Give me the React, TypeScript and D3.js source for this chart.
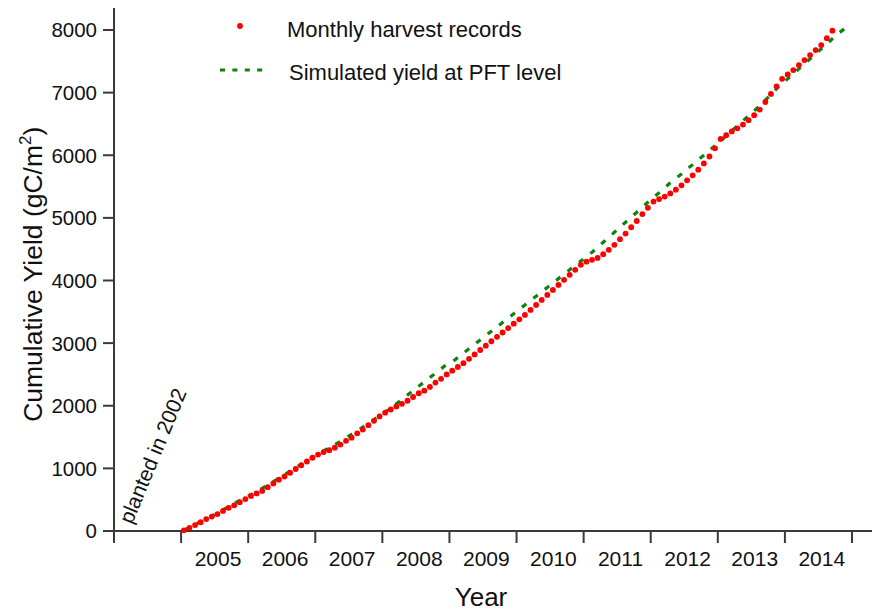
import React from "react";
import * as d3 from "d3";

// Monthly harvest records (cumulative, gC/m2), Jan 2005 .. Sep 2014
const redValues: number[] = [
  // 2005
  10, 50, 95, 140, 190, 230, 270, 320, 370, 410, 460, 510,
  // 2006
  560, 600, 640, 700, 760, 820, 870, 930, 990, 1050, 1110, 1170,
  // 2007
  1220, 1260, 1290, 1330, 1380, 1440, 1490, 1560, 1620, 1690, 1760, 1830,
  // 2008
  1890, 1940, 1990, 2030, 2080, 2140, 2200, 2240, 2300, 2370, 2430, 2500,
  // 2009
  2560, 2620, 2680, 2750, 2820, 2890, 2960, 3030, 3100, 3170, 3240, 3310,
  // 2010
  3380, 3450, 3530, 3610, 3690, 3770, 3850, 3930, 4010, 4090, 4170, 4250,
  // 2011
  4300, 4330, 4360, 4420, 4490, 4570, 4660, 4750, 4850, 4950, 5060, 5160,
  // 2012
  5260, 5300, 5340, 5390, 5450, 5520, 5600, 5680, 5770, 5870, 5980, 6110,
  // 2013
  6260, 6320, 6380, 6430, 6490, 6560, 6640, 6730, 6850, 6980, 7100, 7220,
  // 2014
  7290, 7360, 7440, 7520, 7600, 7680, 7760, 7870, 7990,
];

// Simulated yield at PFT level (cumulative), Jan 2005 .. Dec 2014
const greenValues: number[] = [
  15, 60, 105, 150, 195, 240, 290, 340, 390, 440, 490, 535,
  580, 630, 680, 735, 790, 845, 900, 955, 1010, 1065, 1120, 1175,
  1230, 1280, 1330, 1380, 1430, 1490, 1545, 1600, 1660, 1720, 1780, 1840,
  1900, 1960, 2030, 2100, 2170, 2240, 2310, 2380, 2450, 2520, 2590, 2660,
  2700, 2770, 2840, 2910, 2980, 3050, 3120, 3190, 3260, 3330, 3400, 3470,
  3540, 3610, 3680, 3750, 3820, 3890, 3960, 4030, 4100, 4170, 4240, 4310,
  4380, 4450, 4530, 4610, 4690, 4770, 4850, 4930, 5010, 5090, 5170, 5250,
  5330, 5400, 5480, 5560, 5630, 5700, 5780, 5850, 5930, 6000, 6080, 6150,
  6230, 6310, 6390, 6470, 6550, 6630, 6710, 6790, 6880, 6970, 7060, 7140,
  7220, 7300, 7380, 7460, 7540, 7620, 7700, 7780, 7860, 7940, 8010, 8080,
];

const startYear = 2005;
const yearTicks: number[] = [2004, 2005, 2006, 2007, 2008, 2009, 2010, 2011, 2012, 2013, 2014, 2015];
const yearLabels: number[] = [2005, 2006, 2007, 2008, 2009, 2010, 2011, 2012, 2013, 2014];
const yTicks: number[] = [0, 1000, 2000, 3000, 4000, 5000, 6000, 7000, 8000];

const FONT = "'Liberation Sans', Arial, sans-serif";
const AXIS = "#3a3a3a";
const GREEN = "#0a850a";

export default function App() {
  const x = d3.scaleLinear().domain([2004, 2015]).range([114, 852]);
  const y = d3.scaleLinear().domain([0, 8000]).range([531, 30]);

  const monthTime = (i: number) => startYear + (i + 0.5) / 12;

  const redPts = redValues.map((v, i) => [x(monthTime(i)), y(v)] as [number, number]);
  const greenPts = greenValues.map((v, i) => [x(monthTime(i)), y(v)] as [number, number]);
  const line = d3.line();

  const y0 = y(0);
  const x0 = x(2004);

  return (
    <svg width={872} height={613} style={{ position: "absolute", left: 0, top: 0, background: "#fff" }}>
      <rect x={0} y={0} width={872} height={613} fill="#fff" />
      {/* axes */}
      <line x1={x0} y1={8} x2={x0} y2={y0} stroke={AXIS} strokeWidth={2} />
      <line x1={x0} y1={y0} x2={872} y2={y0} stroke={AXIS} strokeWidth={2} />
      {yTicks.map((t) => (
        <g key={"yt" + t}>
          <line x1={x0 - 11} x2={x0} y1={y(t)} y2={y(t)} stroke={AXIS} strokeWidth={2} />
          <text x={97} y={y(t)} dy="0.36em" textAnchor="end" fontFamily={FONT} fontSize={20.5} fill="#111">
            {t}
          </text>
        </g>
      ))}
      {yearTicks.map((t) => (
        <line key={"xt" + t} x1={x(t)} x2={x(t)} y1={y0} y2={y0 + 12} stroke={AXIS} strokeWidth={2} />
      ))}
      {yearLabels.map((t) => (
        <text key={"xl" + t} x={x(t + 0.55)} y={566} textAnchor="middle" fontFamily={FONT} fontSize={21} fill="#111">
          {t}
        </text>
      ))}
      {/* axis titles */}
      <text x={481} y={606} textAnchor="middle" fontFamily={FONT} fontSize={26} fill="#111">
        Year
      </text>
      <text
        transform={`translate(42, ${y(4100)}) rotate(-90)`}
        textAnchor="middle"
        fontFamily={FONT}
        fontSize={26.5}
        fill="#111"
      >
        Cumulative Yield (gC/m
        <tspan fontSize={17} dy={-11}>2</tspan>
        <tspan dy={11}>)</tspan>
      </text>
      {/* annotation */}
      <text transform="translate(132, 525) rotate(-67.5)" fontFamily={FONT} fontSize={21} fill="#111">
        planted in 2002
      </text>
      {/* green simulated line */}
      <path
        d={line(greenPts) || ""}
        fill="none"
        stroke={GREEN}
        strokeWidth={3.2}
        strokeDasharray="5.5 9"
      />
      {/* red dots */}
      {redPts.map((p, i) => (
        <circle key={"r" + i} cx={p[0]} cy={p[1]} r={2.9} fill="#ff0000" />
      ))}
      {/* legend */}
      <circle cx={240} cy={26} r={2.9} fill="#ff0000" />
      <text x={287} y={37} fontFamily={FONT} fontSize={22} fill="#111">
        Monthly harvest records
      </text>
      <line x1={220} x2={268} y1={70} y2={70} stroke={GREEN} strokeWidth={3.2} strokeDasharray="5 7.4" />
      <text x={289} y={80} fontFamily={FONT} fontSize={22} fill="#111">
        Simulated yield at PFT level
      </text>
    </svg>
  );
}
